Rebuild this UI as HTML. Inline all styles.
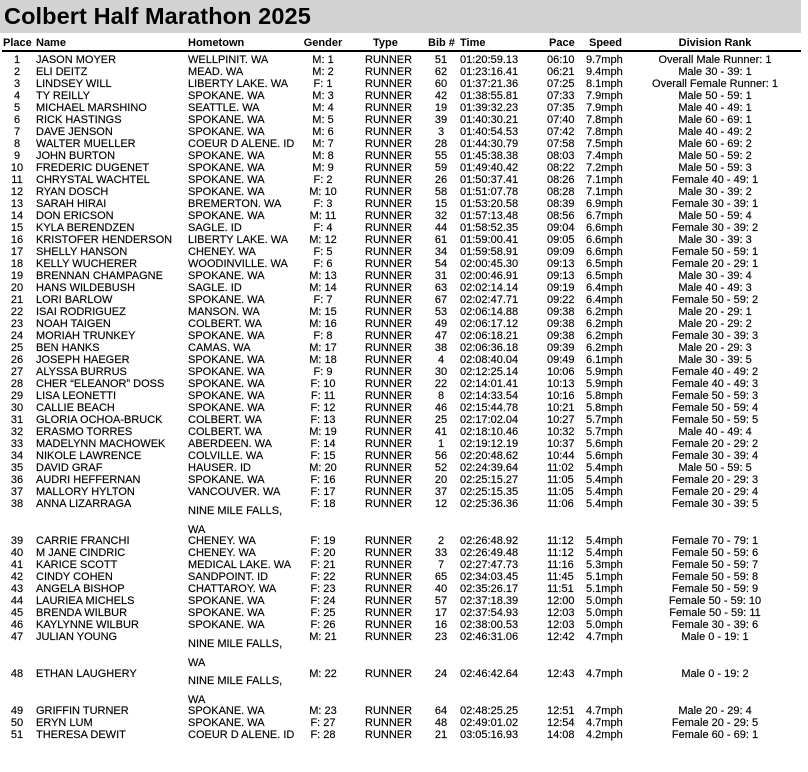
<!DOCTYPE html>
<html><head><meta charset="utf-8"><style>
body{margin:0;width:808px;height:772px;background:#fff;position:relative;overflow:hidden;font-family:"Liberation Sans",Arial,sans-serif;color:#000}
.t{position:absolute;left:0;top:0;width:801px;height:33px;background:#d3d3d3}
.t span{position:absolute;left:4px;top:3px;font-size:23.5px;font-weight:bold;letter-spacing:0.1px}
.h{position:absolute;top:37px;left:0;width:801px;height:12px;font-size:11px;font-weight:bold;line-height:12px}
.ln{position:absolute;left:2px;top:50px;width:799px;height:2px;background:#000}
.r{position:absolute;left:0;width:801px;height:12px;font-size:11px;line-height:12px;white-space:nowrap;margin-top:1px;-webkit-text-stroke:0.15px #000}
.r span,.h span{position:absolute;top:0}
.p{left:2px;width:30px;text-align:center}
.n{left:36px}
.o{left:188px}
.g{left:293px;width:60px;text-align:center}
.y{left:365px}
.b{left:426px;width:30px;text-align:center}
.m{left:460px}
.c{left:547px}
.s{left:586px}
.d{left:630px;width:170px;text-align:center}
.w .o{top:4px;line-height:19px;white-space:normal;width:110px}
</style></head><body>
<div class="t"><span>Colbert Half Marathon 2025</span></div>
<div class="h"><span style="left:3px">Place</span><span class="n">Name</span><span class="o">Hometown</span><span class="g">Gender</span><span style="left:373px">Type</span><span style="left:428px">Bib #</span><span class="m">Time</span><span style="left:549px">Pace</span><span style="left:589px">Speed</span><span class="d">Division Rank</span></div>
<div class="ln"></div>

<div class="r" style="top:53px"><span class="p">1</span><span class="n">JASON MOYER</span><span class="o">WELLPINIT. WA</span><span class="g">M: 1</span><span class="y">RUNNER</span><span class="b">51</span><span class="m">01:20:59.13</span><span class="c">06:10</span><span class="s">9.7mph</span><span class="d">Overall Male Runner: 1</span></div>
<div class="r" style="top:65px"><span class="p">2</span><span class="n">ELI DEITZ</span><span class="o">MEAD. WA</span><span class="g">M: 2</span><span class="y">RUNNER</span><span class="b">62</span><span class="m">01:23:16.41</span><span class="c">06:21</span><span class="s">9.4mph</span><span class="d">Male 30 - 39: 1</span></div>
<div class="r" style="top:77px"><span class="p">3</span><span class="n">LINDSEY WILL</span><span class="o">LIBERTY LAKE. WA</span><span class="g">F: 1</span><span class="y">RUNNER</span><span class="b">60</span><span class="m">01:37:21.36</span><span class="c">07:25</span><span class="s">8.1mph</span><span class="d">Overall Female Runner: 1</span></div>
<div class="r" style="top:89px"><span class="p">4</span><span class="n">TY REILLY</span><span class="o">SPOKANE. WA</span><span class="g">M: 3</span><span class="y">RUNNER</span><span class="b">42</span><span class="m">01:38:55.81</span><span class="c">07:33</span><span class="s">7.9mph</span><span class="d">Male 50 - 59: 1</span></div>
<div class="r" style="top:101px"><span class="p">5</span><span class="n">MICHAEL MARSHINO</span><span class="o">SEATTLE. WA</span><span class="g">M: 4</span><span class="y">RUNNER</span><span class="b">19</span><span class="m">01:39:32.23</span><span class="c">07:35</span><span class="s">7.9mph</span><span class="d">Male 40 - 49: 1</span></div>
<div class="r" style="top:113px"><span class="p">6</span><span class="n">RICK HASTINGS</span><span class="o">SPOKANE. WA</span><span class="g">M: 5</span><span class="y">RUNNER</span><span class="b">39</span><span class="m">01:40:30.21</span><span class="c">07:40</span><span class="s">7.8mph</span><span class="d">Male 60 - 69: 1</span></div>
<div class="r" style="top:125px"><span class="p">7</span><span class="n">DAVE JENSON</span><span class="o">SPOKANE. WA</span><span class="g">M: 6</span><span class="y">RUNNER</span><span class="b">3</span><span class="m">01:40:54.53</span><span class="c">07:42</span><span class="s">7.8mph</span><span class="d">Male 40 - 49: 2</span></div>
<div class="r" style="top:137px"><span class="p">8</span><span class="n">WALTER MUELLER</span><span class="o">COEUR D ALENE. ID</span><span class="g">M: 7</span><span class="y">RUNNER</span><span class="b">28</span><span class="m">01:44:30.79</span><span class="c">07:58</span><span class="s">7.5mph</span><span class="d">Male 60 - 69: 2</span></div>
<div class="r" style="top:149px"><span class="p">9</span><span class="n">JOHN BURTON</span><span class="o">SPOKANE. WA</span><span class="g">M: 8</span><span class="y">RUNNER</span><span class="b">55</span><span class="m">01:45:38.38</span><span class="c">08:03</span><span class="s">7.4mph</span><span class="d">Male 50 - 59: 2</span></div>
<div class="r" style="top:161px"><span class="p">10</span><span class="n">FREDERIC DUGENET</span><span class="o">SPOKANE. WA</span><span class="g">M: 9</span><span class="y">RUNNER</span><span class="b">59</span><span class="m">01:49:40.42</span><span class="c">08:22</span><span class="s">7.2mph</span><span class="d">Male 50 - 59: 3</span></div>
<div class="r" style="top:173px"><span class="p">11</span><span class="n">CHRYSTAL WACHTEL</span><span class="o">SPOKANE. WA</span><span class="g">F: 2</span><span class="y">RUNNER</span><span class="b">26</span><span class="m">01:50:37.41</span><span class="c">08:26</span><span class="s">7.1mph</span><span class="d">Female 40 - 49: 1</span></div>
<div class="r" style="top:185px"><span class="p">12</span><span class="n">RYAN DOSCH</span><span class="o">SPOKANE. WA</span><span class="g">M: 10</span><span class="y">RUNNER</span><span class="b">58</span><span class="m">01:51:07.78</span><span class="c">08:28</span><span class="s">7.1mph</span><span class="d">Male 30 - 39: 2</span></div>
<div class="r" style="top:197px"><span class="p">13</span><span class="n">SARAH HIRAI</span><span class="o">BREMERTON. WA</span><span class="g">F: 3</span><span class="y">RUNNER</span><span class="b">15</span><span class="m">01:53:20.58</span><span class="c">08:39</span><span class="s">6.9mph</span><span class="d">Female 30 - 39: 1</span></div>
<div class="r" style="top:209px"><span class="p">14</span><span class="n">DON ERICSON</span><span class="o">SPOKANE. WA</span><span class="g">M: 11</span><span class="y">RUNNER</span><span class="b">32</span><span class="m">01:57:13.48</span><span class="c">08:56</span><span class="s">6.7mph</span><span class="d">Male 50 - 59: 4</span></div>
<div class="r" style="top:221px"><span class="p">15</span><span class="n">KYLA BERENDZEN</span><span class="o">SAGLE. ID</span><span class="g">F: 4</span><span class="y">RUNNER</span><span class="b">44</span><span class="m">01:58:52.35</span><span class="c">09:04</span><span class="s">6.6mph</span><span class="d">Female 30 - 39: 2</span></div>
<div class="r" style="top:233px"><span class="p">16</span><span class="n">KRISTOFER HENDERSON</span><span class="o">LIBERTY LAKE. WA</span><span class="g">M: 12</span><span class="y">RUNNER</span><span class="b">61</span><span class="m">01:59:00.41</span><span class="c">09:05</span><span class="s">6.6mph</span><span class="d">Male 30 - 39: 3</span></div>
<div class="r" style="top:245px"><span class="p">17</span><span class="n">SHELLY HANSON</span><span class="o">CHENEY. WA</span><span class="g">F: 5</span><span class="y">RUNNER</span><span class="b">34</span><span class="m">01:59:58.91</span><span class="c">09:09</span><span class="s">6.6mph</span><span class="d">Female 50 - 59: 1</span></div>
<div class="r" style="top:257px"><span class="p">18</span><span class="n">KELLY WUCHERER</span><span class="o">WOODINVILLE. WA</span><span class="g">F: 6</span><span class="y">RUNNER</span><span class="b">54</span><span class="m">02:00:45.30</span><span class="c">09:13</span><span class="s">6.5mph</span><span class="d">Female 20 - 29: 1</span></div>
<div class="r" style="top:269px"><span class="p">19</span><span class="n">BRENNAN CHAMPAGNE</span><span class="o">SPOKANE. WA</span><span class="g">M: 13</span><span class="y">RUNNER</span><span class="b">31</span><span class="m">02:00:46.91</span><span class="c">09:13</span><span class="s">6.5mph</span><span class="d">Male 30 - 39: 4</span></div>
<div class="r" style="top:281px"><span class="p">20</span><span class="n">HANS WILDEBUSH</span><span class="o">SAGLE. ID</span><span class="g">M: 14</span><span class="y">RUNNER</span><span class="b">63</span><span class="m">02:02:14.14</span><span class="c">09:19</span><span class="s">6.4mph</span><span class="d">Male 40 - 49: 3</span></div>
<div class="r" style="top:293px"><span class="p">21</span><span class="n">LORI BARLOW</span><span class="o">SPOKANE. WA</span><span class="g">F: 7</span><span class="y">RUNNER</span><span class="b">67</span><span class="m">02:02:47.71</span><span class="c">09:22</span><span class="s">6.4mph</span><span class="d">Female 50 - 59: 2</span></div>
<div class="r" style="top:305px"><span class="p">22</span><span class="n">ISAI RODRIGUEZ</span><span class="o">MANSON. WA</span><span class="g">M: 15</span><span class="y">RUNNER</span><span class="b">53</span><span class="m">02:06:14.88</span><span class="c">09:38</span><span class="s">6.2mph</span><span class="d">Male 20 - 29: 1</span></div>
<div class="r" style="top:317px"><span class="p">23</span><span class="n">NOAH TAIGEN</span><span class="o">COLBERT. WA</span><span class="g">M: 16</span><span class="y">RUNNER</span><span class="b">49</span><span class="m">02:06:17.12</span><span class="c">09:38</span><span class="s">6.2mph</span><span class="d">Male 20 - 29: 2</span></div>
<div class="r" style="top:329px"><span class="p">24</span><span class="n">MORIAH TRUNKEY</span><span class="o">SPOKANE. WA</span><span class="g">F: 8</span><span class="y">RUNNER</span><span class="b">47</span><span class="m">02:06:18.21</span><span class="c">09:38</span><span class="s">6.2mph</span><span class="d">Female 30 - 39: 3</span></div>
<div class="r" style="top:341px"><span class="p">25</span><span class="n">BEN HANKS</span><span class="o">CAMAS. WA</span><span class="g">M: 17</span><span class="y">RUNNER</span><span class="b">38</span><span class="m">02:06:36.18</span><span class="c">09:39</span><span class="s">6.2mph</span><span class="d">Male 20 - 29: 3</span></div>
<div class="r" style="top:353px"><span class="p">26</span><span class="n">JOSEPH HAEGER</span><span class="o">SPOKANE. WA</span><span class="g">M: 18</span><span class="y">RUNNER</span><span class="b">4</span><span class="m">02:08:40.04</span><span class="c">09:49</span><span class="s">6.1mph</span><span class="d">Male 30 - 39: 5</span></div>
<div class="r" style="top:365px"><span class="p">27</span><span class="n">ALYSSA BURRUS</span><span class="o">SPOKANE. WA</span><span class="g">F: 9</span><span class="y">RUNNER</span><span class="b">30</span><span class="m">02:12:25.14</span><span class="c">10:06</span><span class="s">5.9mph</span><span class="d">Female 40 - 49: 2</span></div>
<div class="r" style="top:377px"><span class="p">28</span><span class="n">CHER “ELEANOR” DOSS</span><span class="o">SPOKANE. WA</span><span class="g">F: 10</span><span class="y">RUNNER</span><span class="b">22</span><span class="m">02:14:01.41</span><span class="c">10:13</span><span class="s">5.9mph</span><span class="d">Female 40 - 49: 3</span></div>
<div class="r" style="top:389px"><span class="p">29</span><span class="n">LISA LEONETTI</span><span class="o">SPOKANE. WA</span><span class="g">F: 11</span><span class="y">RUNNER</span><span class="b">8</span><span class="m">02:14:33.54</span><span class="c">10:16</span><span class="s">5.8mph</span><span class="d">Female 50 - 59: 3</span></div>
<div class="r" style="top:401px"><span class="p">30</span><span class="n">CALLIE BEACH</span><span class="o">SPOKANE. WA</span><span class="g">F: 12</span><span class="y">RUNNER</span><span class="b">46</span><span class="m">02:15:44.78</span><span class="c">10:21</span><span class="s">5.8mph</span><span class="d">Female 50 - 59: 4</span></div>
<div class="r" style="top:413px"><span class="p">31</span><span class="n">GLORIA OCHOA-BRUCK</span><span class="o">COLBERT. WA</span><span class="g">F: 13</span><span class="y">RUNNER</span><span class="b">25</span><span class="m">02:17:02.04</span><span class="c">10:27</span><span class="s">5.7mph</span><span class="d">Female 50 - 59: 5</span></div>
<div class="r" style="top:425px"><span class="p">32</span><span class="n">ERASMO TORRES</span><span class="o">COLBERT. WA</span><span class="g">M: 19</span><span class="y">RUNNER</span><span class="b">41</span><span class="m">02:18:10.46</span><span class="c">10:32</span><span class="s">5.7mph</span><span class="d">Male 40 - 49: 4</span></div>
<div class="r" style="top:437px"><span class="p">33</span><span class="n">MADELYNN MACHOWEK</span><span class="o">ABERDEEN. WA</span><span class="g">F: 14</span><span class="y">RUNNER</span><span class="b">1</span><span class="m">02:19:12.19</span><span class="c">10:37</span><span class="s">5.6mph</span><span class="d">Female 20 - 29: 2</span></div>
<div class="r" style="top:449px"><span class="p">34</span><span class="n">NIKOLE LAWRENCE</span><span class="o">COLVILLE. WA</span><span class="g">F: 15</span><span class="y">RUNNER</span><span class="b">56</span><span class="m">02:20:48.62</span><span class="c">10:44</span><span class="s">5.6mph</span><span class="d">Female 30 - 39: 4</span></div>
<div class="r" style="top:461px"><span class="p">35</span><span class="n">DAVID GRAF</span><span class="o">HAUSER. ID</span><span class="g">M: 20</span><span class="y">RUNNER</span><span class="b">52</span><span class="m">02:24:39.64</span><span class="c">11:02</span><span class="s">5.4mph</span><span class="d">Male 50 - 59: 5</span></div>
<div class="r" style="top:473px"><span class="p">36</span><span class="n">AUDRI HEFFERNAN</span><span class="o">SPOKANE. WA</span><span class="g">F: 16</span><span class="y">RUNNER</span><span class="b">20</span><span class="m">02:25:15.27</span><span class="c">11:05</span><span class="s">5.4mph</span><span class="d">Female 20 - 29: 3</span></div>
<div class="r" style="top:485px"><span class="p">37</span><span class="n">MALLORY HYLTON</span><span class="o">VANCOUVER. WA</span><span class="g">F: 17</span><span class="y">RUNNER</span><span class="b">37</span><span class="m">02:25:15.35</span><span class="c">11:05</span><span class="s">5.4mph</span><span class="d">Female 20 - 29: 4</span></div>
<div class="r w" style="top:497px"><span class="p">38</span><span class="n">ANNA LIZARRAGA</span><span class="o">NINE MILE FALLS,<br>WA</span><span class="g">F: 18</span><span class="y">RUNNER</span><span class="b">12</span><span class="m">02:25:36.36</span><span class="c">11:06</span><span class="s">5.4mph</span><span class="d">Female 30 - 39: 5</span></div>
<div class="r" style="top:534px"><span class="p">39</span><span class="n">CARRIE FRANCHI</span><span class="o">CHENEY. WA</span><span class="g">F: 19</span><span class="y">RUNNER</span><span class="b">2</span><span class="m">02:26:48.92</span><span class="c">11:12</span><span class="s">5.4mph</span><span class="d">Female 70 - 79: 1</span></div>
<div class="r" style="top:546px"><span class="p">40</span><span class="n">M JANE CINDRIC</span><span class="o">CHENEY. WA</span><span class="g">F: 20</span><span class="y">RUNNER</span><span class="b">33</span><span class="m">02:26:49.48</span><span class="c">11:12</span><span class="s">5.4mph</span><span class="d">Female 50 - 59: 6</span></div>
<div class="r" style="top:558px"><span class="p">41</span><span class="n">KARICE SCOTT</span><span class="o">MEDICAL LAKE. WA</span><span class="g">F: 21</span><span class="y">RUNNER</span><span class="b">7</span><span class="m">02:27:47.73</span><span class="c">11:16</span><span class="s">5.3mph</span><span class="d">Female 50 - 59: 7</span></div>
<div class="r" style="top:570px"><span class="p">42</span><span class="n">CINDY COHEN</span><span class="o">SANDPOINT. ID</span><span class="g">F: 22</span><span class="y">RUNNER</span><span class="b">65</span><span class="m">02:34:03.45</span><span class="c">11:45</span><span class="s">5.1mph</span><span class="d">Female 50 - 59: 8</span></div>
<div class="r" style="top:582px"><span class="p">43</span><span class="n">ANGELA BISHOP</span><span class="o">CHATTAROY. WA</span><span class="g">F: 23</span><span class="y">RUNNER</span><span class="b">40</span><span class="m">02:35:26.17</span><span class="c">11:51</span><span class="s">5.1mph</span><span class="d">Female 50 - 59: 9</span></div>
<div class="r" style="top:594px"><span class="p">44</span><span class="n">LAURIEA MICHELS</span><span class="o">SPOKANE. WA</span><span class="g">F: 24</span><span class="y">RUNNER</span><span class="b">57</span><span class="m">02:37:18.39</span><span class="c">12:00</span><span class="s">5.0mph</span><span class="d">Female 50 - 59: 10</span></div>
<div class="r" style="top:606px"><span class="p">45</span><span class="n">BRENDA WILBUR</span><span class="o">SPOKANE. WA</span><span class="g">F: 25</span><span class="y">RUNNER</span><span class="b">17</span><span class="m">02:37:54.93</span><span class="c">12:03</span><span class="s">5.0mph</span><span class="d">Female 50 - 59: 11</span></div>
<div class="r" style="top:618px"><span class="p">46</span><span class="n">KAYLYNNE WILBUR</span><span class="o">SPOKANE. WA</span><span class="g">F: 26</span><span class="y">RUNNER</span><span class="b">16</span><span class="m">02:38:00.53</span><span class="c">12:03</span><span class="s">5.0mph</span><span class="d">Female 30 - 39: 6</span></div>
<div class="r w" style="top:630px"><span class="p">47</span><span class="n">JULIAN YOUNG</span><span class="o">NINE MILE FALLS,<br>WA</span><span class="g">M: 21</span><span class="y">RUNNER</span><span class="b">23</span><span class="m">02:46:31.06</span><span class="c">12:42</span><span class="s">4.7mph</span><span class="d">Male 0 - 19: 1</span></div>
<div class="r w" style="top:667px"><span class="p">48</span><span class="n">ETHAN LAUGHERY</span><span class="o">NINE MILE FALLS,<br>WA</span><span class="g">M: 22</span><span class="y">RUNNER</span><span class="b">24</span><span class="m">02:46:42.64</span><span class="c">12:43</span><span class="s">4.7mph</span><span class="d">Male 0 - 19: 2</span></div>
<div class="r" style="top:704px"><span class="p">49</span><span class="n">GRIFFIN TURNER</span><span class="o">SPOKANE. WA</span><span class="g">M: 23</span><span class="y">RUNNER</span><span class="b">64</span><span class="m">02:48:25.25</span><span class="c">12:51</span><span class="s">4.7mph</span><span class="d">Male 20 - 29: 4</span></div>
<div class="r" style="top:716px"><span class="p">50</span><span class="n">ERYN LUM</span><span class="o">SPOKANE. WA</span><span class="g">F: 27</span><span class="y">RUNNER</span><span class="b">48</span><span class="m">02:49:01.02</span><span class="c">12:54</span><span class="s">4.7mph</span><span class="d">Female 20 - 29: 5</span></div>
<div class="r" style="top:728px"><span class="p">51</span><span class="n">THERESA DEWIT</span><span class="o">COEUR D ALENE. ID</span><span class="g">F: 28</span><span class="y">RUNNER</span><span class="b">21</span><span class="m">03:05:16.93</span><span class="c">14:08</span><span class="s">4.2mph</span><span class="d">Female 60 - 69: 1</span></div>
</body></html>
